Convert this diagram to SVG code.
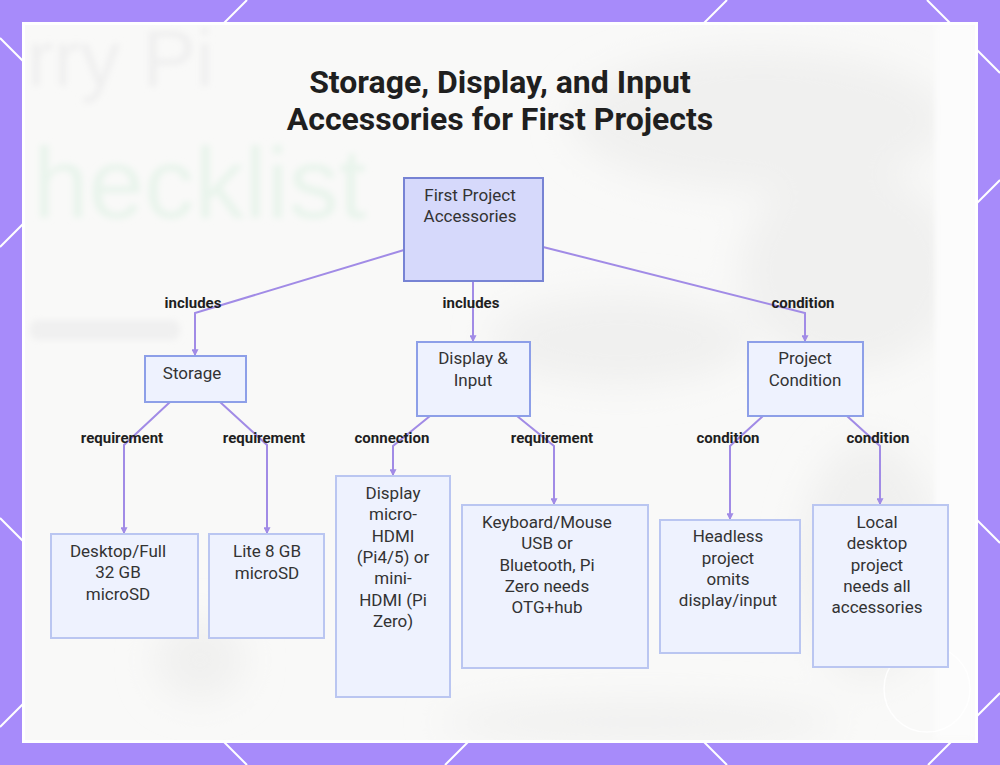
<svg xmlns="http://www.w3.org/2000/svg" width="1000" height="765" viewBox="0 0 1000 765">
  <style>
    .title { font-family: Roboto, "Liberation Sans", sans-serif; font-weight: 700; font-size: 32px; fill: #1f1f1f; text-anchor: middle; }
    .ntext { font-family: Roboto, "Liberation Sans", sans-serif; font-size: 17px; fill: #333333; text-anchor: middle; }
    .elabel { font-family: Roboto, "Liberation Sans", sans-serif; font-weight: 700; font-size: 15px; fill: #1f1f1f; text-anchor: middle; }
    .root { fill: #d6d9fb; stroke: #7783d4; stroke-width: 2; }
    .mid { fill: #eef2fe; stroke: #8d9fe8; stroke-width: 2; }
    .leaf { fill: #eef2fe; stroke: #bac6f1; stroke-width: 2; }
    .edge { fill: none; stroke: #a18be6; stroke-width: 2; }
    .deco { stroke: #ffffff; stroke-width: 2; }
  </style>
  <defs>
    <filter id="blur" x="-20%" y="-20%" width="140%" height="140%">
      <feGaussianBlur stdDeviation="3"/>
    </filter>
    <filter id="blurBig" x="-50%" y="-50%" width="200%" height="200%">
      <feGaussianBlur stdDeviation="18"/>
    </filter>
    <clipPath id="panelClip">
      <rect x="25" y="25" width="950" height="715"/>
    </clipPath>
    <marker id="arr" viewBox="0 0 6 6" refX="5" refY="3" markerWidth="3.5" markerHeight="3.5" orient="auto">
      <path d="M0,0 L6,3 L0,6 z" fill="#a18be6"/>
    </marker>
  </defs>

  <!-- frame -->
  <rect x="0" y="0" width="1000" height="765" fill="#a78bfa"/>
  <g class="deco">
    <line x1="247" y1="0" x2="0" y2="247"/>
    <line x1="727" y1="0" x2="0" y2="727"/>
    <line x1="0" y1="518" x2="247" y2="765"/>
    <line x1="0" y1="38" x2="727" y2="765"/>
    <line x1="927" y1="0" x2="1000" y2="73"/>
    <line x1="1000" y1="693" x2="928" y2="765"/>
    <line x1="1000" y1="180" x2="975" y2="205"/>
    <line x1="470" y1="740" x2="445" y2="765"/>
    <line x1="975" y1="518" x2="1000" y2="543"/>
  </g>

  <!-- panel -->
  <rect x="22" y="22" width="956" height="721" fill="#ffffff"/>
  <rect x="25" y="25" width="950" height="715" fill="#f9f9f8"/>
  <g clip-path="url(#panelClip)">
    <g filter="url(#blurBig)" fill="#f0f0ef">
      <ellipse cx="760" cy="120" rx="190" ry="70"/>
      <ellipse cx="850" cy="270" rx="110" ry="100"/>
      <ellipse cx="620" cy="340" rx="130" ry="45"/>
      <ellipse cx="870" cy="560" rx="70" ry="120"/>
      <ellipse cx="200" cy="660" rx="45" ry="40"/>
      <ellipse cx="640" cy="722" rx="200" ry="20"/>
    </g>
    <rect x="935" y="25" width="40" height="715" fill="#fcfcfc" filter="url(#blur)"/>
    <g filter="url(#blur)">
      <text x="27" y="86" font-family="'Liberation Sans', sans-serif" font-size="80" fill="#efefef">rry Pi</text>
      <text x="33" y="218" font-family="'Liberation Sans', sans-serif" font-size="100" fill="#e9f4ec">hecklist</text>
      <rect x="30" y="320" width="150" height="20" rx="8" fill="#f0f0f0"/>
    </g>
    <circle cx="927" cy="689" r="43" fill="none" stroke="#ffffff" stroke-width="1.5" opacity="0.9"/>
  </g>

  <!-- title -->
  <text class="title" x="500" y="93">Storage, Display, and Input</text>
  <text class="title" x="500" y="130">Accessories for First Projects</text>

  <!-- connectors -->
  <g id="connectors">
    <polyline class="edge" points="404,250 195,313 195,355" marker-end="url(#arr)"/>
    <polyline class="edge" points="473,282 473,341" marker-end="url(#arr)"/>
    <polyline class="edge" points="543,247 805,313 805,341" marker-end="url(#arr)"/>
    <polyline class="edge" points="170,402 124,445 124,533" marker-end="url(#arr)"/>
    <polyline class="edge" points="220,402 267,445 267,533" marker-end="url(#arr)"/>
    <polyline class="edge" points="430,416 393,446 393,475" marker-end="url(#arr)"/>
    <polyline class="edge" points="517,416 554,446 554,504" marker-end="url(#arr)"/>
    <polyline class="edge" points="763,416 730,446 730,519" marker-end="url(#arr)"/>
    <polyline class="edge" points="847,416 880,446 880,504" marker-end="url(#arr)"/>
    <text class="elabel" x="193" y="308">includes</text>
    <text class="elabel" x="471" y="308">includes</text>
    <text class="elabel" x="803" y="308">condition</text>
    <text class="elabel" x="122" y="443">requirement</text>
    <text class="elabel" x="264" y="443">requirement</text>
    <text class="elabel" x="392" y="443">connection</text>
    <text class="elabel" x="552" y="443">requirement</text>
    <text class="elabel" x="728" y="443">condition</text>
    <text class="elabel" x="878" y="443">condition</text>
  </g>

  <!-- nodes -->
  <g id="node-root">
    <rect class="root" x="404" y="178" width="139" height="103"/>
    <text class="ntext" x="470" y="201">First Project</text>
    <text class="ntext" x="470" y="222">Accessories</text>
  </g>
  <g id="node-storage">
    <rect class="mid" x="145" y="356" width="101" height="46"/>
    <text class="ntext" x="192" y="379">Storage</text>
  </g>
  <g id="node-display-input">
    <rect class="mid" x="417" y="342" width="113" height="74"/>
    <text class="ntext" x="473" y="364">Display &amp;</text>
    <text class="ntext" x="473" y="386">Input</text>
  </g>
  <g id="node-project-condition">
    <rect class="mid" x="748" y="342" width="115" height="74"/>
    <text class="ntext" x="805" y="364">Project</text>
    <text class="ntext" x="805" y="386">Condition</text>
  </g>
  <g id="node-desktop-sd">
    <rect class="leaf" x="51" y="534" width="147" height="104"/>
    <text class="ntext" x="118" y="557">Desktop/Full</text>
    <text class="ntext" x="118" y="578">32 GB</text>
    <text class="ntext" x="118" y="600">microSD</text>
  </g>
  <g id="node-lite-sd">
    <rect class="leaf" x="209" y="534" width="115" height="104"/>
    <text class="ntext" x="267" y="557">Lite 8 GB</text>
    <text class="ntext" x="267" y="579">microSD</text>
  </g>
  <g id="node-display">
    <rect class="leaf" x="336" y="476" width="114" height="221"/>
    <text class="ntext" x="393" y="499">Display</text>
    <text class="ntext" x="393" y="520">micro-</text>
    <text class="ntext" x="393" y="542">HDMI</text>
    <text class="ntext" x="393" y="563">(Pi4/5) or</text>
    <text class="ntext" x="393" y="584">mini-</text>
    <text class="ntext" x="393" y="606">HDMI (Pi</text>
    <text class="ntext" x="393" y="627">Zero)</text>
  </g>
  <g id="node-keyboard">
    <rect class="leaf" x="462" y="505" width="186" height="163"/>
    <text class="ntext" x="547" y="528">Keyboard/Mouse</text>
    <text class="ntext" x="547" y="549">USB or</text>
    <text class="ntext" x="547" y="571">Bluetooth, Pi</text>
    <text class="ntext" x="547" y="592">Zero needs</text>
    <text class="ntext" x="547" y="613">OTG+hub</text>
  </g>
  <g id="node-headless">
    <rect class="leaf" x="660" y="520" width="140" height="133"/>
    <text class="ntext" x="728" y="542">Headless</text>
    <text class="ntext" x="728" y="564">project</text>
    <text class="ntext" x="728" y="585">omits</text>
    <text class="ntext" x="728" y="606">display/input</text>
  </g>
  <g id="node-local">
    <rect class="leaf" x="813" y="505" width="135" height="162"/>
    <text class="ntext" x="877" y="528">Local</text>
    <text class="ntext" x="877" y="549">desktop</text>
    <text class="ntext" x="877" y="571">project</text>
    <text class="ntext" x="877" y="592">needs all</text>
    <text class="ntext" x="877" y="613">accessories</text>
  </g>
</svg>
